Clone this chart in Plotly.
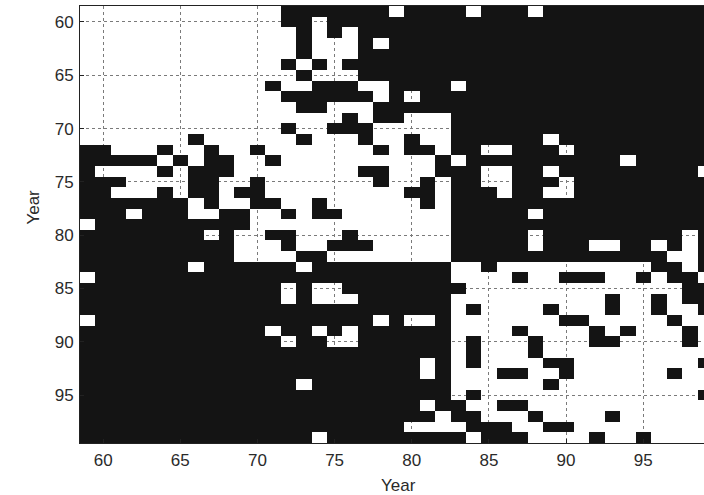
import plotly.graph_objects as go

# Years on both axes (19xx)
years = list(range(59, 100))
tick_vals = [60, 65, 70, 75, 80, 85, 90, 95]
tick_text = ["60", "65", "70", "75", "80", "85", "90", "95"]

# Binary matrix: one string per row year 59..99,
# one character per column year 59..99; '#' = black cell, '.' = white cell
rows = [
    ".............#######.####.###.###########",  # 59
    ".............##.#########################",  # 60
    "..............#.#.#######################",  # 61
    "..............#...#.#####################",  # 62
    "..............#...#######################",  # 63
    ".............#.#.########################",  # 64
    "..............#...#######################",  # 65
    "............#..###..####.################",  # 66
    ".............######.#.###################",  # 67
    "..............##...######################",  # 68
    ".................#.##...#################",  # 69
    ".............#..###.....#################",  # 70
    ".......#......#...#..#..######.##########",  # 71
    "##...#..#..#.......#.##.##..###.#########",  # 72
    "#####.#.##..#..........#.##########.#####",  # 73
    "#....#.###........##...###..##.#########.",  # 74
    "###....##..#.......#..#.##..###.#########",  # 75
    "##...#.##.##.........##.###.##..#########",  # 76
    "#######.#..##..#......#.#################",  # 77
    "###.###..##..#.##.......#####.###########",  # 78
    ".##########.............#################",  # 79
    "########.#..##...#......#####.#########.#",  # 80
    "##########...#..###.....#####.###..##.#.#",  # 81
    "##########....##........##############..#",  # 82
    "#######.######.#########..#..........##.#",  # 83
    ".#######################....#..###..#.##.",  # 84
    "#############.#..########..............##",  # 85
    "#############.#...######..........#..#.##",  # 86
    "########################.#....#...#..#..#",  # 87
    ".##################.#..#.......##.....#..",  # 88
    "############.##.#.######....#....#.#...#.",  # 89
    "#############.##..######.#...#...##....#.",  # 90
    "########################.#...#...........",  # 91
    "######################.#.#....##........#",  # 92
    "######################.#...##..#......#..",  # 93
    "##############.#########......#..........",  # 94
    "########################.#..............#",  # 95
    "######################.##..##............",  # 96
    "#######################.##...#....#......",  # 97
    "#####################....###..##.........",  # 98
    "###############.#########.###....#..#....",  # 99
]

n = len(years)
z = []
for row in rows:
    row = row.ljust(n, ".")[:n]
    z.append([1 if ch == "#" else None for ch in row])

FONT = "Liberation Sans, Arial, Helvetica, sans-serif"
TXT = "#2a2a2a"

fig = go.Figure(
    go.Heatmap(
        x=years,
        y=years,
        z=z,
        zmin=0,
        zmax=1,
        colorscale=[[0, "#141414"], [1, "#141414"]],
        showscale=False,
        hoverinfo="skip",
    )
)

axis_common = dict(
    tickvals=tick_vals,
    ticktext=tick_text,
    showgrid=True,
    gridcolor="#7a7a7a",
    griddash="dot",
    gridwidth=1,
    zeroline=False,
    ticks="inside",
    ticklen=4,
    tickcolor="#222",
    showline=True,
    linecolor="#222",
    linewidth=1,
    tickfont=dict(family=FONT, size=17, color=TXT),
)

fig.update_layout(
    width=704,
    height=495,
    margin=dict(l=80, r=0, t=6, b=52),
    paper_bgcolor="white",
    plot_bgcolor="white",
    showlegend=False,
    xaxis=dict(range=[58.5, 98.94], mirror=True, ticklabelstandoff=2, **axis_common),
    yaxis=dict(range=[99.5, 58.5], mirror=False, ticklabelstandoff=2, **axis_common),
    annotations=[
        dict(text="Year", xref="paper", yref="paper", x=0.51, y=-0.097,
             xanchor="center", yanchor="middle", showarrow=False,
             font=dict(family=FONT, size=17, color=TXT)),
        dict(text="Year", xref="paper", yref="paper", x=-0.076, y=0.54,
             xanchor="center", yanchor="middle", showarrow=False, textangle=-90,
             font=dict(family=FONT, size=17, color=TXT)),
    ],
)

fig.write_html("out.html")
